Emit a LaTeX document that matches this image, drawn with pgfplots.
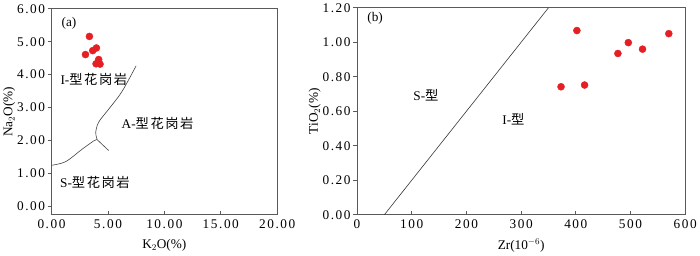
\documentclass[border=0pt]{standalone}
\usepackage{fontspec}
\setmainfont{Liberation Serif}
\newfontfamily\cjk[LetterSpace=12]{Noto Sans CJK SC}
\usepackage{pgfplots}
\pgfplotsset{compat=1.18}
\definecolor{dotred}{RGB}{228,32,36}
\definecolor{axgray}{RGB}{90,90,90}
\newcommand\lf{\fontsize{13.5}{15}\selectfont}
\newcommand\tf{\fontsize{13.5}{15}\selectfont\addfontfeatures{LetterSpace=12}}
\pgfplotsset{
  base/.style={
    scale only axis,
    axis line style={axgray, line width=0.7pt},
    tick style={axgray, line width=0.7pt},
    major tick length=4pt,
    xtick pos=left, ytick pos=left,
    xtick align=inside, ytick align=outside,
    /pgf/number format/assume math mode=true,
    tick label style={font=\tf},
    xticklabel style={yshift=-2pt},
    yticklabel style={xshift=1pt},
    label style={font=\lf},
    xlabel style={yshift=-3pt},
    clip=false,
  },
  dots/.style={only marks, mark=*, mark size=3.6pt, mark options={draw=dotred, fill=dotred}},
}
\begin{document}
\begin{tikzpicture}[x=1bp,y=1bp]
\begin{axis}[base,
  at={(0,0)}, anchor=south west,
  width=229bp, height=209bp,
  xmin=0, xmax=20, ymin=-0.25, ymax=6,
  xtick={0,5,10,15,20}, ytick={0,1,2,3,4,5,6},
  xticklabel style={/pgf/number format/.cd, fixed, fixed zerofill, precision=2},
  yticklabel style={/pgf/number format/.cd, fixed, fixed zerofill, precision=2},
  xlabel={K$_2$O(\%)}, ylabel={Na$_2$O(\%)},
  ylabel style={yshift=-5pt},
]
\addplot[black!75, line width=0.6pt, smooth] coordinates {(0,1.25) (1.25,1.36) (2.72,1.74) (3.74,1.99) (4.04,2.03)};
\addplot[black!75, line width=0.6pt, smooth] coordinates {(4.04,2.03) (3.92,2.25) (4.18,2.56) (5.06,2.95) (6.23,3.48) (7.5,4.27)};
\addplot[black!75, line width=0.6pt] coordinates {(4.04,2.03) (4.47,1.89) (5.06,1.70)};
\addplot[dots] coordinates {
(3.36,5.16) (3.01,4.61) (3.65,4.73) (3.98,4.81) (4.18,4.46) (3.95,4.33) (4.30,4.32)
};
\node[font=\lf] at (axis cs:1.55,5.55) {(a)};
\node[font=\lf] at (axis cs:3.75,3.86) {I-{\cjk 型花岗岩}};
\node[font=\lf] at (axis cs:9.4,2.51) {A-{\cjk 型花岗岩}};
\node[font=\lf] at (axis cs:3.85,0.73) {S-{\cjk 型花岗岩}};
\end{axis}
\begin{axis}[base,
  at={(310bp,0)}, anchor=south west,
  width=333bp, height=210bp,
  xmin=0, xmax=600, ymin=0, ymax=1.2,
  xtick={0,100,...,600}, ytick={0,0.2,0.4,0.6,0.8,1.0,1.2},
  yticklabel style={/pgf/number format/.cd, fixed, fixed zerofill, precision=2},
  xlabel={Zr(10$^{-6}$)}, ylabel={TiO$_2$(\%)},
  ylabel style={yshift=-5pt},
]
\addplot[black!80, line width=0.6pt] coordinates {(50,0) (350,1.2)};
\addplot[dots] coordinates {
(373,0.742) (402,1.068) (416,0.752) (477,0.935) (496,0.998) (522,0.96) (570,1.05)
};
\node[font=\lf] at (axis cs:33,1.14) {(b)};
\node[font=\lf] at (axis cs:126,0.695) {S-{\cjk 型}};
\node[font=\lf] at (axis cs:286,0.556) {I-{\cjk 型}};
\end{axis}
\end{tikzpicture}
\end{document}
